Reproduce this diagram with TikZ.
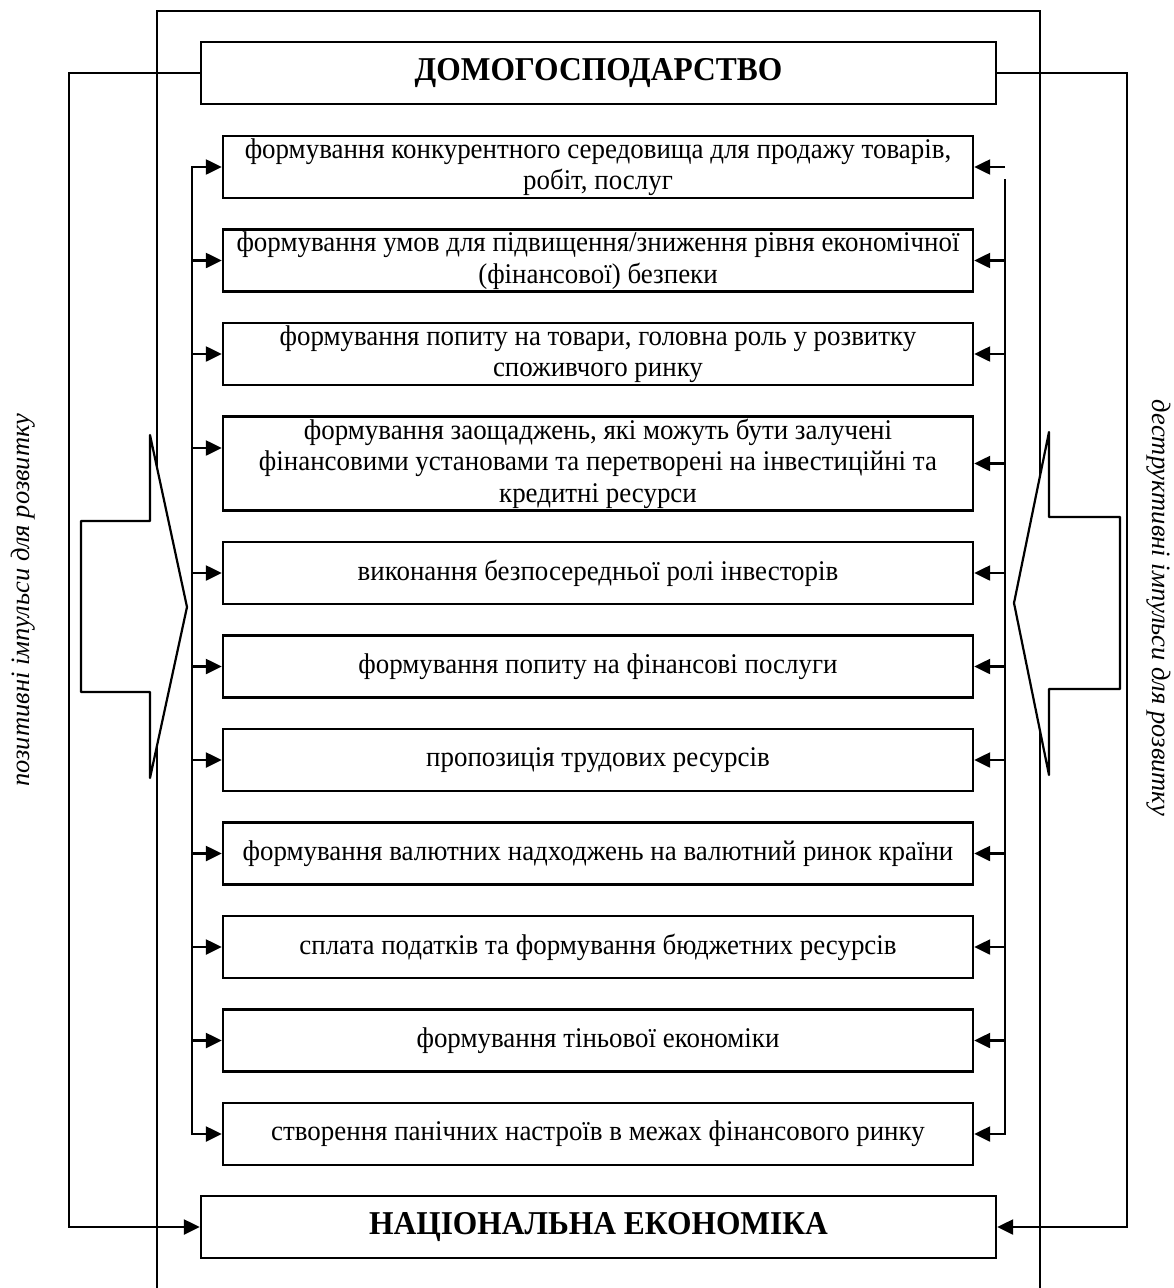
\documentclass[tikz,border=0pt]{standalone}
\usepackage{fontspec}
\setmainfont{Liberation Serif}
\newfontfamily\narrowserif{Liberation Serif}[FakeStretch=0.945]
\usetikzlibrary{arrows.meta}
\begin{document}
\begin{tikzpicture}[x=1pt,y=-1pt, line width=2.4pt,
 box/.style={draw, line width=2.4pt, minimum width=750pt, minimum height=62pt, inner sep=0pt, align=center, font=\narrowserif\fontsize{28.5}{31.5}\selectfont},
 titlebox/.style={draw, line width=2.4pt, minimum width=795pt, minimum height=62pt, inner sep=0pt, font=\narrowserif\bfseries\fontsize{33.3}{36}\selectfont},
 arr/.style={-{Triangle[length=16pt,width=15pt]}},
 biarr/.style={{Triangle[length=16pt,width=15pt]}-{Triangle[length=16pt,width=15pt]}},
 side/.style={font=\itshape\fontsize{26.5}{30}\selectfont, inner sep=0pt},
 chev/.style={draw, fill=white, line width=2.2pt, line join=round}]
\useasboundingbox (0,0) rectangle (1174,1288);
% outer frame
\draw (157,1290) -- (157,11) -- (1040,11) -- (1040,1290);
% title boxes
\node[titlebox] (hh) at (598.5,73) {ДОМОГОСПОДАРСТВО};
\node[titlebox] (ne) at (598.5,1227) {НАЦІОНАЛЬНА ЕКОНОМІКА};
% role boxes
\node[box] (b1) at (598,167) {формування конкурентного середовища для продажу товарів,\\ робіт, послуг};
\node[box] (b2) at (598,260.5) {формування умов для підвищення/зниження рівня економічної\\ (фінансової) безпеки};
\node[box] (b3) at (598,354) {формування попиту на товари, головна роль у розвитку\\ споживчого ринку};
\node[box, minimum height=94pt] (b4) at (598,463.5) {формування заощаджень, які можуть бути залучені\\ фінансовими установами та перетворені на інвестиційні та\\ кредитні ресурси};
\node[box] (b5) at (598,573) {виконання безпосередньої ролі інвесторів};
\node[box] (b6) at (598,666.5) {формування попиту на фінансові послуги};
\node[box] (b7) at (598,760) {пропозиція трудових ресурсів};
\node[box] (b8) at (598,853.5) {формування валютних надходжень на валютний ринок країни};
\node[box] (b9) at (598,947) {сплата податків та формування бюджетних ресурсів};
\node[box] (b10) at (598,1040.5) {формування тіньової економіки};
\node[box] (b11) at (598,1134) {створення панічних настроїв в межах фінансового ринку};
% feedback loops
\coordinate (fl) at (69,0);
\coordinate (fr) at (1127,0);
\draw[arr] (hh.west) -- (fl |- hh.west) -- (fl |- ne.west) -- (ne.west);
\draw[arr] (hh.east) -- (fr |- hh.east) -- (fr |- ne.east) -- (ne.east);
% chevrons
\draw[chev] (150,435) -- (187,607) -- (150,778) -- (150,692) -- (81,692) -- (81,521) -- (150,521) -- cycle;
\draw[chev] (1049,432) -- (1014,603) -- (1049,775) -- (1049,689) -- (1120,689) -- (1120,517) -- (1049,517) -- cycle;
% left bus
\coordinate (bl) at (192,0);
\draw[biarr] (b1.west) -- (bl |- b1.west) -- (bl |- b11.west) -- (b11.west);
\foreach \i in {2,3,5,6,7,8,9,10} {\draw[arr] (bl |- b\i.west) -- (b\i.west);}
\draw[arr] (bl |- 0,448) -- (b4.west |- 0,448);
% right bus
\coordinate (br) at (1005,0);
\coordinate (brtop) at (1005,179);
\draw[arr] (brtop) -- (br |- b11.east) -- (b11.east);
\draw[arr] (br |- b1.east) -- (b1.east);
\foreach \i in {2,3,4,5,6,7,8,9,10} {\draw[arr] (br |- b\i.east) -- (b\i.east);}
% side labels
\node[side, rotate=90] (lt) at (23,600) {позитивні імпульси для розвитку};
\node[side, rotate=-90] (rt) at (1159,608) {деструктивні імпульси для розвитку};
\end{tikzpicture}
\end{document}
